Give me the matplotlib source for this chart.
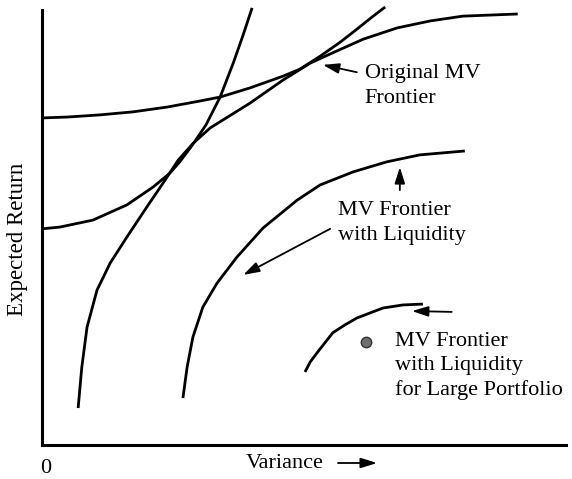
import matplotlib
matplotlib.use("Agg")
import matplotlib.pyplot as plt

plt.rcParams['font.family'] = ['Liberation Serif', 'DejaVu Serif']

# original MV frontier (variance, expected return)
f0_var = [0.69, 0.76, 0.86, 1.05, 1.30, 1.62, 2.00, 2.31, 2.60, 2.88, 3.21, 3.97, 4.60,
          5.12, 5.50, 6.13, 6.78, 7.41, 8.03, 9.08]
f0_ret = [0.85, 1.79, 2.71, 3.56, 4.18, 4.78, 5.47, 6.02, 6.55, 6.93, 7.29, 7.86, 8.39,
          8.78, 8.99, 9.33, 9.59, 9.75, 9.86, 9.91]

# indifference curves starting on the return axis
i1_var = [0, 0.48, 1.11, 1.74, 2.39, 3.02, 3.40, 3.97, 4.60, 4.92, 5.31, 5.69,
          6.01, 6.30, 6.55]
i1_ret = [7.52, 7.54, 7.59, 7.66, 7.77, 7.91, 8.00, 8.21, 8.48, 8.64, 8.94, 9.26,
          9.56, 9.84, 10.07]
i2_var = [0, 0.34, 0.97, 1.62, 2.12, 2.44, 2.63, 2.86, 3.13, 3.40, 3.65, 3.84, 4.01]
i2_ret = [4.97, 5.01, 5.17, 5.52, 5.93, 6.25, 6.51, 6.88, 7.36, 8.00, 8.78, 9.43, 10.05]

# MV frontier with liquidity
f1_var = [2.69, 2.77, 2.88, 3.07, 3.34, 3.72, 4.22, 4.87, 5.31, 5.94, 6.58, 7.21, 8.07]
f1_ret = [1.08, 1.79, 2.48, 3.17, 3.72, 4.32, 4.99, 5.63, 5.98, 6.28, 6.51, 6.67, 6.76]

# MV frontier with liquidity for large portfolio
f2_var = [5.02, 5.12, 5.25, 5.55, 5.78, 6.01, 6.51, 6.89, 7.27]
f2_ret = [1.68, 1.91, 2.12, 2.58, 2.76, 2.92, 3.15, 3.22, 3.24]

dot_var, dot_ret = 6.18, 2.37

fig = plt.figure(figsize=(5.72, 4.79), dpi=100)
ax = fig.add_axes([0.0734, 0.071, 0.916, 0.908])

lw = 2.0
for xs, ys in [(f0_var, f0_ret), (i1_var, i1_ret), (i2_var, i2_ret),
               (f1_var, f1_ret), (f2_var, f2_ret)]:
    ax.plot(xs, ys, color='black', lw=lw, solid_capstyle='butt',
            solid_joinstyle='round', clip_on=False)

ax.plot([dot_var], [dot_ret], 'o', ms=7.5, mfc='#6e6e6e', mec='#333333', mew=1)

ax.set_xlim(0, 10)
ax.set_ylim(0, 10)
ax.set_xticks([])
ax.set_yticks([])
for s in ['top', 'right']:
    ax.spines[s].set_visible(False)
for s in ['left', 'bottom']:
    ax.spines[s].set_linewidth(2.2)

arr = dict(arrowstyle='-|>,head_length=0.7,head_width=0.22', color='black',
           lw=1.3, mutation_scale=14, shrinkA=0, shrinkB=0)
fs = 16
ls = 1.42

ax.annotate('', xy=(5.36, 8.74), xytext=(6.01, 8.57), arrowprops=arr)
ax.text(6.16, 8.26, 'Original MV\nFrontier', fontsize=fs, ha='left', va='center',
        linespacing=ls)

ax.annotate('', xy=(6.83, 6.39), xytext=(6.83, 5.86), arrowprops=arr)
ax.annotate('', xy=(3.84, 3.91), xytext=(5.50, 4.97), arrowprops=arr)
ax.text(5.65, 5.11, 'MV Frontier\nwith Liquidity', fontsize=fs, ha='left', va='center',
        linespacing=ls)

ax.annotate('', xy=(7.06, 3.08), xytext=(7.82, 3.06), arrowprops=arr)
ax.text(6.74, 1.82, 'MV Frontier\nwith Liquidity\nfor Large Portfolio', fontsize=fs,
        ha='left', va='center', linespacing=1.35)

fig.text(0.497, 0.033, 'Variance', fontsize=fs, ha='center', va='center')
fig.text(0.079, 0.022, '0', fontsize=fs, ha='center', va='center')
fig.text(0.031, 0.501, 'Expected Return', fontsize=16.5, ha='center', va='center',
         rotation=90)
ax.annotate('', xy=(377 / 572, 1 - 463 / 479), xytext=(338 / 572, 1 - 463 / 479),
            xycoords='figure fraction', textcoords='figure fraction',
            arrowprops=arr)

fig.savefig('out.png', dpi=100)
